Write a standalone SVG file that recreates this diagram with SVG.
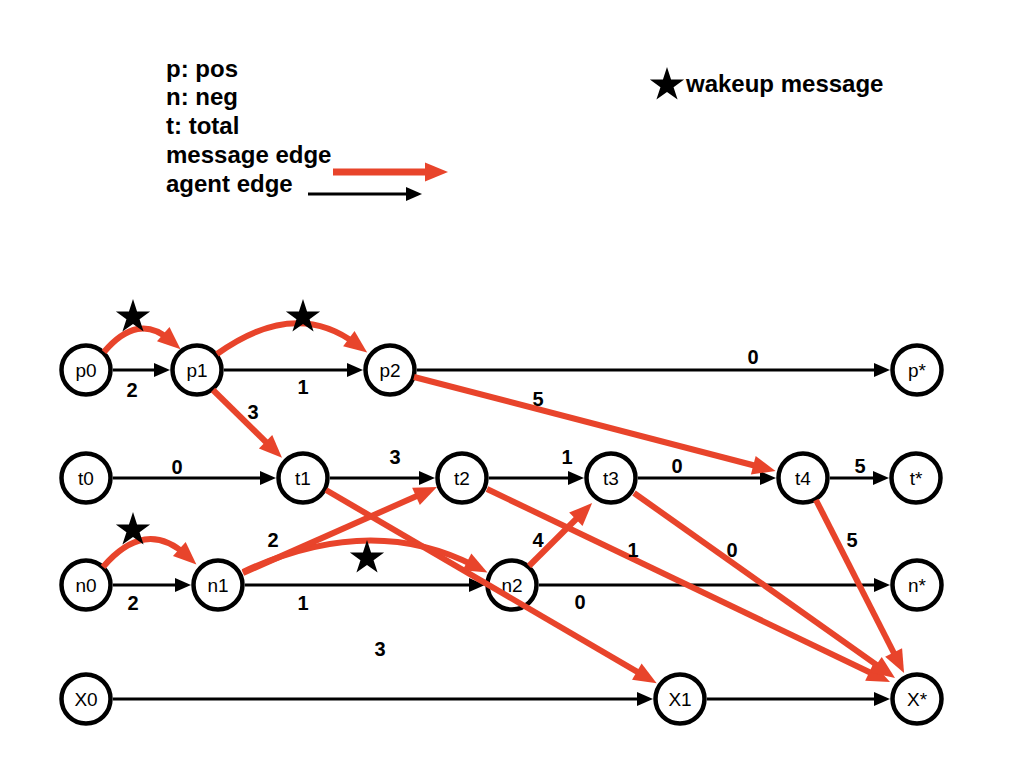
<svg xmlns="http://www.w3.org/2000/svg" xmlns:xlink="http://www.w3.org/1999/xlink" width="1024" height="768" viewBox="0 0 1024 768">
<style>
.node circle{fill:#fff;stroke:#000;stroke-width:4.5}
.node text{font-family:"Liberation Sans",Arial,sans-serif;font-size:19px;text-anchor:middle;fill:#000}
.agent{stroke:#000;stroke-width:3;fill:none;marker-end:url(#ah)}
.msg{stroke:#E8442B;stroke-width:6;fill:none;marker-end:url(#mh)}
.lbl{font-family:"Liberation Sans",Arial,sans-serif;font-size:20px;font-weight:bold;text-anchor:middle;fill:#000}
.leg{font-family:"Liberation Sans",Arial,sans-serif;font-size:24px;font-weight:bold;fill:#000}
</style>
<defs>
<marker id="ah" markerUnits="userSpaceOnUse" markerWidth="16" markerHeight="14" refX="4" refY="7" orient="auto" overflow="visible"><path d="M0,0 L16,7 L0,14 z" fill="#000"/></marker>
<marker id="mh" markerUnits="userSpaceOnUse" markerWidth="23" markerHeight="19" refX="9" refY="9.5" orient="auto" overflow="visible"><path d="M0,0 L23,9.5 L0,19 z" fill="#E8442B"/></marker>
<polygon id="star" points="0,-18 4.06,-5.58 17.12,-5.56 6.56,2.13 10.58,14.56 0,6.9 -10.58,14.56 -6.56,2.13 -17.12,-5.56 -4.06,-5.58" fill="#000"/>
</defs>
<rect width="1024" height="768" fill="#fff"/>
<g id="legend">
<text class="leg" x="166" y="77">p: pos</text>
<text class="leg" x="166" y="105">n: neg</text>
<text class="leg" x="166" y="134">t: total</text>
<text class="leg" x="166" y="163">message edge</text>
<text class="leg" x="166" y="192">agent edge</text>
<path d="M333,172 L434,172" stroke="#E8442B" stroke-width="7" fill="none" marker-end="url(#mh)"/>
<path class="agent" d="M308,194 L410,194"/>
<use xlink:href="#star" x="667" y="85"/>
<text class="leg" x="686" y="92">wakeup message</text>
</g>
<g id="p0" class="node"><circle cx="86" cy="370" r="24.5"/><text x="86" y="377">p0</text></g>
<g id="p1" class="node"><circle cx="197" cy="370" r="24.5"/><text x="197" y="377">p1</text></g>
<g id="p2" class="node"><circle cx="390" cy="370" r="24.5"/><text x="390" y="377">p2</text></g>
<g id="pstar" class="node"><circle cx="917" cy="370" r="24.5"/><text x="917" y="377">p*</text></g>
<g id="t0" class="node"><circle cx="86" cy="478" r="24.5"/><text x="86" y="485">t0</text></g>
<g id="t1" class="node"><circle cx="303" cy="478" r="24.5"/><text x="303" y="485">t1</text></g>
<g id="t2" class="node"><circle cx="462" cy="478" r="24.5"/><text x="462" y="485">t2</text></g>
<g id="t3" class="node"><circle cx="611" cy="478" r="24.5"/><text x="611" y="485">t3</text></g>
<g id="t4" class="node"><circle cx="803" cy="478" r="24.5"/><text x="803" y="485">t4</text></g>
<g id="tstar" class="node"><circle cx="916" cy="478" r="24.5"/><text x="916" y="485">t*</text></g>
<g id="n0" class="node"><circle cx="86" cy="585" r="24.5"/><text x="86" y="592">n0</text></g>
<g id="n1" class="node"><circle cx="218" cy="585" r="24.5"/><text x="218" y="592">n1</text></g>
<g id="n2" class="node"><circle cx="512" cy="585" r="24.5"/><text x="512" y="592">n2</text></g>
<g id="nstar" class="node"><circle cx="917" cy="585" r="24.5"/><text x="917" y="592">n*</text></g>
<g id="X0" class="node"><circle cx="86" cy="699" r="24.5"/><text x="86" y="706">X0</text></g>
<g id="X1" class="node"><circle cx="680" cy="699" r="24.5"/><text x="680" y="706">X1</text></g>
<g id="Xstar" class="node"><circle cx="917" cy="699" r="24.5"/><text x="917" y="706">X*</text></g>
<g id="connectors">
<path class="agent" d="M113,370 L158,370"/>
<path class="agent" d="M224,370 L351,370"/>
<path class="agent" d="M417,370 L878,370"/>
<path class="agent" d="M113,478 L264,478"/>
<path class="agent" d="M330,478 L423,478"/>
<path class="agent" d="M489,478 L572,478"/>
<path class="agent" d="M638,478 L764,478"/>
<path class="agent" d="M830,478 L877,478"/>
<path class="agent" d="M113,585 L179,585"/>
<path class="agent" d="M245,585 L473,585"/>
<path class="agent" d="M539,585 L878,585"/>
<path class="agent" d="M113,699 L641,699"/>
<path class="agent" d="M707,699 L878,699"/>
<path class="msg" d="M104,352 Q138,312 170,340"/>
<path class="msg" d="M217,354 Q295,298 356,344"/>
<path class="msg" d="M213,390 L272,448"/>
<path class="msg" d="M414,377 L762,467.5"/>
<path class="msg" d="M326,490 L644.6,676.2"/>
<path class="msg" d="M487,489 L877.4,676"/>
<path class="msg" d="M634,493 L883.6,669.9"/>
<path class="msg" d="M816,500 L897.7,660.5"/>
<path class="msg" d="M103,567 Q145,518 186,555"/>
<path class="msg" d="M243,572 Q370,512 475,566"/>
<path class="msg" d="M243,573 L424.2,492.7"/>
<path class="msg" d="M529,566 L582.2,513"/>
</g>
<g id="edge-labels">
<use xlink:href="#star" x="133" y="317"/>
<use xlink:href="#star" x="303" y="317"/>
<use xlink:href="#star" x="133" y="530"/>
<use xlink:href="#star" x="367" y="558"/>
<text class="lbl" x="132" y="397">2</text>
<text class="lbl" x="303" y="394">1</text>
<text class="lbl" x="253" y="419">3</text>
<text class="lbl" x="177" y="474">0</text>
<text class="lbl" x="395" y="464">3</text>
<text class="lbl" x="753" y="364">0</text>
<text class="lbl" x="538" y="406">5</text>
<text class="lbl" x="567" y="464">1</text>
<text class="lbl" x="677" y="473">0</text>
<text class="lbl" x="860" y="473">5</text>
<text class="lbl" x="538" y="547">4</text>
<text class="lbl" x="633" y="557">1</text>
<text class="lbl" x="732" y="557">0</text>
<text class="lbl" x="852" y="547">5</text>
<text class="lbl" x="580" y="609">0</text>
<text class="lbl" x="133" y="610">2</text>
<text class="lbl" x="273" y="547">2</text>
<text class="lbl" x="303" y="610">1</text>
<text class="lbl" x="380" y="656">3</text>
</g>
</svg>
